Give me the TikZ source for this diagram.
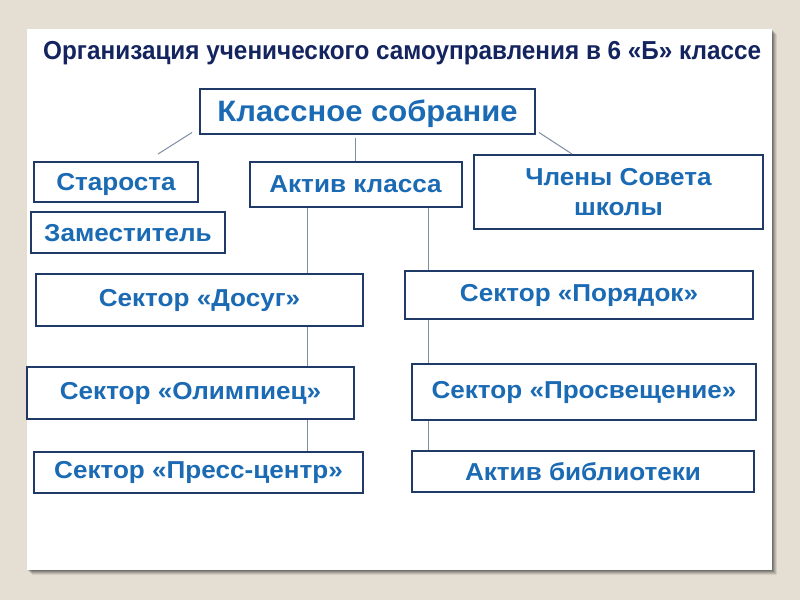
\documentclass[tikz,border=0pt]{standalone}
\usepackage{fontspec}
\usepackage{graphicx}
\setmainfont{Liberation Sans}
\usetikzlibrary{calc}
\definecolor{bgc}{HTML}{E4DED3}
\definecolor{titlec}{HTML}{14245F}
\definecolor{txtc}{HTML}{1B6AB4}
\definecolor{brdc}{HTML}{1F3A66}
\definecolor{linec}{HTML}{7F8CA3}
\newcommand{\bt}[1]{\scalebox{1.065}[1]{#1}}
\tikzset{
  bx/.style={draw=brdc, line width=2pt, fill=white, text=txtc, font=\bfseries\fontsize{24.5}{30}\selectfont, inner sep=0pt, align=center},
  tight/.style={text depth=0pt},
  conn/.style={draw=linec, line width=1pt},
}
\begin{document}
\begin{tikzpicture}[x=1pt,y=-1pt]
\useasboundingbox (0,0) rectangle (800,600);
\fill[bgc] (0,0) rectangle (800,600);
% shadow
\foreach \o/\op in {5/0.08,4/0.10,3/0.12,2/0.15,1/0.18}{
  \fill[black,opacity=\op] (27+\o,29+\o) rectangle (772+\o,570+\o);
}
\fill[white] (27,29) rectangle (772,570);
\node[text=titlec, font=\bfseries\fontsize{26}{30}\selectfont, anchor=west, inner sep=0pt] (title) at (43,53) {\scalebox{0.935}[1]{Организация ученического самоуправления в 6 «Б» классе}};

\node[bx, tight, minimum width=335, minimum height=45, font=\bfseries\fontsize{29.5}{32}\selectfont] (ks) at (367.5,111) {\scalebox{1.05}[1]{Классное собрание}};
\node[bx, tight, minimum width=164, minimum height=40] (st) at (116,182) {\bt{Староста}};
\node[bx, tight, minimum width=194, minimum height=41] (zam) at (128,232.5) {\bt{Заместитель}};
\node[bx, minimum width=212, minimum height=45] (ak) at (355.5,184.5) {\bt{Актив класса}};
\node[bx, minimum width=289, minimum height=74] (chl) at (618.5,192) {\bt{Члены Совета}\\\bt{школы}};
\node[bx, minimum width=327, minimum height=52] (dos) at (199.5,300) {\bt{Сектор «Досуг»}};
\node[bx, minimum width=327, minimum height=52] (ol) at (190.5,393) {\bt{Сектор «Олимпиец»}};
\node[bx, minimum width=329, minimum height=41] (pc) at (198.5,472.5) {\bt{Сектор «Пресс-центр»}};
\node[bx, minimum width=348, minimum height=48] (por) at (579,295) {\bt{Сектор «Порядок»}};
\node[bx, minimum width=344, minimum height=56] (pros) at (584,392) {\bt{Сектор «Просвещение»}};
\node[bx, tight, minimum width=342, minimum height=41] (bib) at (583,471.5) {\bt{Актив библиотеки}};

\coordinate (a1) at ($(ks.south west)+(-7,-2)$);
\coordinate (a2) at ($(st.north east)+(-41,-7)$);
\coordinate (b1) at ($(ks.south east)+(3,-2)$);
\coordinate (b2) at ($(chl.north west)+(99,0)$);
\coordinate (c1) at ($(ks.south -| ak.north)+(0,3)$);
\draw[conn] (a1) -- (a2);
\draw[conn] (b1) -- (b2);
\draw[conn] (c1) -- (ak.north);
\draw[conn] (ak.south -| 307,0) -- (dos.north -| 307,0);
\draw[conn] (dos.south -| 307,0) -- (ol.north -| 307,0);
\draw[conn] (ol.south -| 307,0) -- (pc.north -| 307,0);
\draw[conn] (ak.south -| 428,0) -- (por.north -| 428,0);
\draw[conn] (por.south -| 428,0) -- (pros.north -| 428,0);
\draw[conn] (pros.south -| 428,0) -- (bib.north -| 428,0);
\end{tikzpicture}
\end{document}
